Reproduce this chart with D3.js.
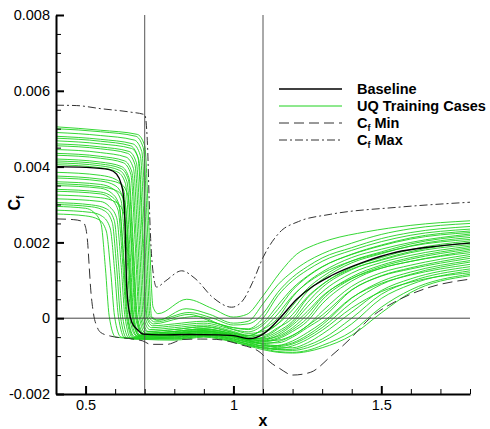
<!DOCTYPE html>
<html>
<head>
<meta charset="utf-8">
<script src="https://cdn.jsdelivr.net/npm/d3@7"></script>
<style>
  body { margin: 0; background: #fff; }
  svg { display: block; font-family: "Liberation Sans", Arial, sans-serif; }
</style>
</head>
<body>
<svg id="chart" width="490" height="429"></svg>
<script>
// Skin-friction coefficient along x. Curve values are stored as Cf × 10^4.
const CF_UNIT = 1e-4;

const xMajorTicks = [0.5, 1, 1.5];
const xTickLabels = ["0.5", "1", "1.5"];
const yMajorTicks = [-0.002, 0, 0.002, 0.004, 0.006, 0.008];
const yTickLabels = ["-0.002", "0", "0.002", "0.004", "0.006", "0.008"];
const markerX = [0.7, 1.1];
const legendLabels = ["Baseline", "UQ Training Cases", "Cf Min", "Cf Max"];

const baseline = [[0.4,40],[0.5,39.8],[0.58,39.2],[0.605,38],[0.62,35.5],[0.627,33],[0.633,26],[0.639,8.5],[0.648,1.5],[0.656,-1],[0.675,-3],[0.695,-4.2],[0.75,-4.4],[0.85,-4.3],[0.95,-4.4],[1.0,-4.6],[1.056,-5.4],[1.1,-4.2],[1.157,0],[1.214,5],[1.27,8.5],[1.33,11.2],[1.44,14.8],[1.55,17.4],[1.665,18.8],[1.8,19.8]];

const cfMin = [[0.4,26.2],[0.46,26],[0.49,25.5],[0.5,24],[0.507,20],[0.512,14],[0.517,8],[0.526,1.6],[0.54,-2.5],[0.55,-3.7],[0.583,-4.7],[0.66,-5.5],[0.694,-6],[0.72,-6.9],[0.775,-6.9],[0.83,-5.6],[0.89,-5.5],[0.944,-5.6],[1.02,-6.9],[1.09,-9],[1.124,-11.6],[1.157,-13.3],[1.2,-15],[1.26,-14.3],[1.33,-10],[1.394,-5.5],[1.462,0],[1.563,5],[1.665,8.2],[1.8,10.3]];

const cfMax = [[0.4,56.2],[0.47,56.1],[0.55,55.3],[0.65,54.4],[0.7,53.7],[0.705,51.5],[0.71,44.5],[0.715,31.4],[0.72,21],[0.727,13],[0.74,8.2],[0.77,9.8],[0.825,12.5],[0.87,10.5],[0.93,5.5],[0.994,2.9],[1.03,4.5],[1.065,9.5],[1.1,16],[1.157,22.7],[1.22,25.5],[1.327,27.4],[1.56,29.3],[1.8,30.6]];

const trainingCases = [
  [[0.4,50.5],[0.55,49.6],[0.675,48.5],[0.7,45.5],[0.715,22.7],[0.728,3],[0.745,1.2],[0.842,5],[0.93,2.5],[1.0,0.3],[1.045,1],[1.1,5.9],[1.157,12],[1.214,16.9],[1.27,19.2],[1.33,20.8],[1.45,22.8],[1.6,24.5],[1.8,25.7]],
  [[0.4,50],[0.55,49.2],[0.67,48],[0.695,45],[0.71,22.5],[0.723,0.5],[0.745,-0.5],[0.84,2.5],[0.92,1],[1.0,-1.3],[1.05,-0.8],[1.1,3.8],[1.15,8.8],[1.2,12.3],[1.25,15],[1.3,17],[1.4,19.8],[1.5,22.1],[1.6,23.6],[1.8,25]],
  [[0.4,49],[0.55,48.2],[0.665,47],[0.69,44],[0.705,22],[0.718,0.5],[0.74,-0.5],[0.85,1.5],[0.93,0],[1.0,-1.8],[1.05,-1.5],[1.1,1.2],[1.15,6.8],[1.2,10.8],[1.25,13.6],[1.3,15.9],[1.4,18.6],[1.5,21],[1.6,22.6],[1.8,24.2]],
  [[0.4,48],[0.55,47.2],[0.66,46],[0.685,43],[0.7,21.6],[0.713,0.5],[0.735,-1],[0.85,1],[0.93,-1],[1.0,-2.5],[1.05,-3],[1.1,-1.2],[1.15,3.4],[1.2,7.9],[1.25,11.1],[1.3,13.6],[1.4,16.8],[1.5,19.1],[1.6,20.9],[1.8,22.6]],
  [[0.4,47.5],[0.55,46.7],[0.652,45.5],[0.677,42.5],[0.692,21.4],[0.705,0.5],[0.727,-2],[0.8,-1.5],[0.9,-0.8],[1.0,-2.5],[1.05,-2.8],[1.1,0],[1.15,5.9],[1.2,9.9],[1.25,12.7],[1.3,15],[1.4,17.9],[1.5,20.2],[1.6,21.9],[1.8,23.5]],
  [[0.4,46.8],[0.55,46],[0.655,44.8],[0.68,41.8],[0.695,21],[0.708,0.5],[0.73,-1.5],[0.82,0],[0.88,0.5],[0.95,-1.5],[1.0,-3],[1.05,-4],[1.1,-3.5],[1.15,-1.5],[1.2,2.2],[1.25,7],[1.3,10.2],[1.4,14.6],[1.5,17],[1.6,19.1],[1.8,21.3]],
  [[0.4,46],[0.55,45.2],[0.647,44],[0.672,41],[0.687,20.7],[0.7,0.5],[0.722,-2.5],[0.8,-2],[0.9,-1.3],[1.0,-3],[1.05,-3.6],[1.1,-1.8],[1.15,2.3],[1.2,7.4],[1.25,10.9],[1.3,13.5],[1.4,16.9],[1.5,19.3],[1.6,21.2],[1.8,23]],
  [[0.4,45.5],[0.55,44.7],[0.642,43.5],[0.667,40.5],[0.682,20.5],[0.695,0.5],[0.717,-3],[0.8,-2.5],[0.9,-1.8],[1.0,-3.5],[1.05,-4.5],[1.1,-4.5],[1.15,-2.5],[1.2,0],[1.25,5.3],[1.3,8.8],[1.4,13.4],[1.5,16],[1.6,18.1],[1.8,20.4]],
  [[0.4,44.5],[0.55,43.7],[0.637,42.5],[0.662,39.5],[0.677,20],[0.69,0.5],[0.712,-3.5],[0.8,-3],[0.9,-2.3],[1.0,-3.8],[1.05,-4.6],[1.1,-3],[1.15,0],[1.2,5.6],[1.25,9.5],[1.3,12.2],[1.4,16],[1.5,18.2],[1.6,20],[1.8,22.2]],
  [[0.4,43.5],[0.55,42.7],[0.632,41.5],[0.657,38.5],[0.672,19.6],[0.685,0.5],[0.707,-3.5],[0.8,-3],[0.9,-2.2],[1.0,-3.8],[1.05,-5],[1.1,-5.5],[1.15,-4.8],[1.2,-2.5],[1.25,1],[1.3,5.5],[1.4,10.9],[1.5,14],[1.6,16],[1.8,18.6]],
  [[0.4,43],[0.55,42.2],[0.628,41],[0.653,38],[0.668,19.4],[0.681,0.5],[0.703,-4],[0.8,-3.5],[0.9,-2.8],[1.0,-4.2],[1.05,-5],[1.1,-4],[1.15,-1.5],[1.2,3.3],[1.25,7.8],[1.3,10.9],[1.4,15.1],[1.5,17.5],[1.6,19.6],[1.8,21.8]],
  [[0.4,42],[0.55,41.2],[0.622,40],[0.647,37],[0.662,18.9],[0.675,0.5],[0.697,-4],[0.8,-3.5],[0.9,-2.8],[1.0,-4.3],[1.05,-5.3],[1.1,-6],[1.15,-5.8],[1.2,-4.5],[1.25,-2],[1.3,1.8],[1.4,8.4],[1.5,12],[1.6,14],[1.8,16.8]],
  [[0.4,41.5],[0.55,40.7],[0.62,39.5],[0.645,36.5],[0.66,18.7],[0.673,0.5],[0.695,-4.5],[0.8,-4],[0.9,-3.3],[1.0,-4.6],[1.05,-5.5],[1.1,-5.2],[1.15,-3.5],[1.2,-0.8],[1.25,4.1],[1.3,8.1],[1.4,12.8],[1.5,15.5],[1.6,17.6],[1.8,20]],
  [[0.4,41],[0.55,40.2],[0.615,39],[0.64,36],[0.655,18.5],[0.668,0.5],[0.69,-4],[0.8,-3.5],[0.9,-2.8],[1.0,-4],[1.05,-4.6],[1.1,-2.8],[1.15,1.1],[1.2,5.9],[1.25,9.3],[1.3,11.8],[1.4,15.1],[1.5,17.2],[1.6,19],[1.8,20.8]],
  [[0.4,40.5],[0.55,39.7],[0.61,38.5],[0.635,35.5],[0.65,18.2],[0.663,0.5],[0.685,-4.5],[0.8,-4],[0.9,-3.3],[1.0,-4.8],[1.05,-5.8],[1.1,-6.8],[1.15,-7.2],[1.2,-6.5],[1.25,-4.5],[1.3,-1.8],[1.4,5.3],[1.5,9.7],[1.6,12.2],[1.8,15.2]],
  [[0.4,38.5],[0.55,37.7],[0.605,36.5],[0.63,33.5],[0.645,17.3],[0.658,0.5],[0.68,-4.5],[0.8,-4.2],[0.9,-3.5],[1.0,-4.8],[1.05,-5.6],[1.1,-5],[1.15,-2.8],[1.2,1],[1.25,5.6],[1.3,8.9],[1.4,13],[1.5,15.3],[1.6,17.3],[1.8,19.4]],
  [[0.4,37.5],[0.55,36.7],[0.618,35.5],[0.643,32.5],[0.658,16.9],[0.671,0.5],[0.693,-4.2],[0.8,-3.8],[0.9,-3],[1.0,-4.5],[1.05,-5.5],[1.1,-6],[1.15,-5.2],[1.2,-3],[1.25,0],[1.3,4.8],[1.4,10.4],[1.5,13.6],[1.6,15.6],[1.8,18.2]],
  [[0.4,37],[0.55,36.2],[0.6,35],[0.625,32],[0.64,16.7],[0.653,0.5],[0.675,-4.8],[0.8,-4.5],[0.9,-3.8],[1.0,-5],[1.05,-6],[1.1,-7],[1.15,-7.8],[1.2,-7.8],[1.25,-6.5],[1.3,-4.2],[1.4,1.6],[1.5,7.3],[1.6,10.4],[1.8,13.6]],
  [[0.4,36],[0.55,35.3],[0.595,34],[0.62,31],[0.635,16.2],[0.648,0.5],[0.67,-4.5],[0.8,-4],[0.9,-3.3],[1.0,-4.6],[1.05,-5.5],[1.1,-5.5],[1.15,-4],[1.2,-1.3],[1.25,3],[1.3,6.9],[1.4,11.9],[1.5,14.7],[1.6,16.6],[1.8,19]],
  [[0.4,35.5],[0.55,34.7],[0.608,33.5],[0.633,30.5],[0.648,16],[0.661,0.5],[0.683,-4.8],[0.8,-4.5],[0.9,-3.8],[1.0,-5],[1.05,-6],[1.1,-6.5],[1.15,-6.5],[1.2,-5],[1.25,-2.5],[1.3,0],[1.4,7.4],[1.5,11.2],[1.6,13.3],[1.8,16.3]],
  [[0.4,35],[0.55,34.3],[0.588,33],[0.613,30],[0.628,15.8],[0.641,0.5],[0.663,-5],[0.8,-4.8],[0.9,-4],[1.0,-5.3],[1.05,-6.3],[1.1,-7.5],[1.15,-8.3],[1.2,-8.5],[1.25,-7.8],[1.3,-6.2],[1.4,-1.5],[1.5,5.2],[1.6,8.9],[1.8,12.5]],
  [[0.4,34],[0.55,33.3],[0.59,32],[0.615,29],[0.63,15.3],[0.643,0.5],[0.665,-4.8],[0.8,-4.5],[0.9,-3.7],[1.0,-5],[1.05,-5.8],[1.1,-6.2],[1.15,-5.5],[1.2,-3.5],[1.25,-0.8],[1.3,3.8],[1.4,9.8],[1.5,13.2],[1.6,15],[1.8,17.8]],
  [[0.4,33.5],[0.55,32.8],[0.585,31.5],[0.61,28.5],[0.625,15.1],[0.638,0.5],[0.66,-5.2],[0.8,-5],[0.9,-4.2],[1.0,-5.5],[1.05,-6.5],[1.1,-7.3],[1.15,-7.5],[1.2,-6.8],[1.25,-5],[1.3,-2.5],[1.4,4.1],[1.5,8.9],[1.6,11.6],[1.8,14.8]],
  [[0.4,32.5],[0.55,31.8],[0.605,30.5],[0.63,27.5],[0.645,14.6],[0.658,0.5],[0.68,-4.5],[0.8,-4.2],[0.9,-3.4],[1.0,-4.8],[1.05,-5.7],[1.1,-5.8],[1.15,-4.5],[1.2,-1.8],[1.25,1.8],[1.3,5.8],[1.4,10.5],[1.5,13.2],[1.6,15],[1.8,17.3]],
  [[0.4,31.5],[0.55,30.8],[0.58,29.5],[0.605,26.5],[0.62,14.2],[0.633,0.5],[0.655,-5.5],[0.8,-5.2],[0.9,-4.4],[1.0,-5.8],[1.05,-7],[1.1,-8],[1.15,-8.8],[1.2,-9],[1.25,-8.5],[1.3,-7.2],[1.4,-3.5],[1.5,2.9],[1.6,7.5],[1.8,11.6]],
  [[0.4,30.5],[0.52,29.9],[0.572,28.8],[0.597,25.8],[0.612,13.7],[0.625,0.5],[0.647,-5.2],[0.8,-5],[0.9,-4.2],[1.0,-5.5],[1.05,-6.3],[1.1,-6.7],[1.15,-6.2],[1.2,-4.6],[1.25,-2],[1.3,0.8],[1.4,7.5],[1.5,11.1],[1.6,13],[1.8,15.8]],
  [[0.4,30],[0.52,29.4],[0.565,28.3],[0.59,25.3],[0.605,13.5],[0.618,0.5],[0.64,-5.3],[0.8,-5.3],[0.9,-4.5],[1.0,-5.8],[1.05,-6.8],[1.1,-7.8],[1.15,-8.3],[1.2,-8.2],[1.25,-7.2],[1.3,-5.5],[1.4,0],[1.5,6.3],[1.6,9.7],[1.8,13]],
  [[0.4,29.5],[0.5,29],[0.527,28],[0.552,25],[0.567,13.3],[0.58,0.5],[0.602,-5],[0.7,-5.5],[0.8,-5.5],[0.9,-4.7],[1.0,-6],[1.05,-6.8],[1.1,-7.3],[1.15,-7.2],[1.2,-6],[1.25,-3.8],[1.3,-1.2],[1.4,5.4],[1.5,9.2],[1.6,11.4],[1.8,14.2]],
  [[0.4,28.5],[0.52,27.9],[0.558,26.8],[0.583,23.8],[0.598,12.8],[0.611,0.5],[0.633,-5.2],[0.8,-5.5],[0.9,-4.8],[1.0,-6.2],[1.05,-7.3],[1.1,-8.3],[1.15,-9],[1.2,-9.2],[1.25,-8.8],[1.3,-7.8],[1.4,-4.5],[1.5,1.4],[1.6,6.8],[1.8,11.2]],
  [[0.4,27.5],[0.5,27],[0.545,26],[0.57,23],[0.585,12.4],[0.598,0.5],[0.62,-5],[0.7,-5.6],[0.8,-5.8],[0.9,-5],[1.0,-6.3],[1.05,-7.2],[1.1,-7.8],[1.15,-8],[1.2,-7.3],[1.25,-5.6],[1.3,-3.2],[1.4,2.7],[1.5,7],[1.6,9.5],[1.8,12]]
];

const svg = d3.select("#chart");
const x = d3.scaleLinear().domain([0.4, 1.8]).range([56, 470]);
const y = d3.scaleLinear().domain([-0.002, 0.008]).range([394, 15]);

const line = d3.line()
  .x(d => x(d[0]))
  .y(d => y(d[1] * CF_UNIT))
  .curve(d3.curveMonotoneX);

const plot = svg.append("g");

// UQ training cases
plot.append("g")
  .selectAll("path")
  .data(trainingCases)
  .join("path")
  .attr("d", line)
  .attr("fill", "none")
  .attr("stroke", "#1ed21e")
  .attr("stroke-width", 0.9);

// reference lines: x = 0.7, x = 1.1 and Cf = 0
plot.append("g")
  .selectAll("line")
  .data(markerX)
  .join("line")
  .attr("x1", d => x(d)).attr("x2", d => x(d))
  .attr("y1", y.range()[1]).attr("y2", y.range()[0])
  .attr("stroke", "#555").attr("stroke-width", 1);
plot.append("line")
  .attr("x1", x.range()[0]).attr("x2", x.range()[1])
  .attr("y1", y(0)).attr("y2", y(0))
  .attr("stroke", "#444").attr("stroke-width", 1);

// envelope and baseline
plot.append("path").datum(cfMin).attr("d", line)
  .attr("fill", "none").attr("stroke", "#333").attr("stroke-width", 1)
  .attr("stroke-dasharray", "10,5");
plot.append("path").datum(cfMax).attr("d", line)
  .attr("fill", "none").attr("stroke", "#333").attr("stroke-width", 1)
  .attr("stroke-dasharray", "8,3,2,3");
plot.append("path").datum(baseline).attr("d", line)
  .attr("fill", "none").attr("stroke", "#000").attr("stroke-width", 1.4);

// axes
const fontSize = 14.5;
const xMinor = x.ticks(14).filter(t => t > 0.4 && !xMajorTicks.some(m => Math.abs(m - t) < 1e-9));
const yMinor = y.ticks(20).filter(t => !yMajorTicks.some(m => Math.abs(m - t) < 1e-12));

const gxMinor = svg.append("g").attr("transform", `translate(0,${y.range()[0]})`)
  .call(d3.axisBottom(x).tickValues(xMinor).tickSize(-5).tickSizeOuter(0).tickFormat(""));
gxMinor.select(".domain").remove();
gxMinor.selectAll(".tick line").attr("stroke", "#000").attr("stroke-width", 1);

const gyMinor = svg.append("g").attr("transform", `translate(${x.range()[0]},0)`)
  .call(d3.axisLeft(y).tickValues(yMinor).tickSize(-5).tickSizeOuter(0).tickFormat(""));
gyMinor.select(".domain").remove();
gyMinor.selectAll(".tick line").attr("stroke", "#000").attr("stroke-width", 1);

const gx = svg.append("g").attr("transform", `translate(0,${y.range()[0]})`)
  .call(d3.axisBottom(x).tickValues(xMajorTicks).tickSize(-8).tickSizeOuter(0).tickPadding(6)
    .tickFormat((d, i) => xTickLabels[i]));
gx.select(".domain").attr("stroke", "#000").attr("stroke-width", 2);
gx.selectAll(".tick line").attr("stroke", "#000").attr("stroke-width", 2);
gx.selectAll(".tick text").attr("font-size", fontSize).attr("font-family", "Liberation Sans, Arial, sans-serif").attr("fill", "#000");

const gy = svg.append("g").attr("transform", `translate(${x.range()[0]},0)`)
  .call(d3.axisLeft(y).tickValues(yMajorTicks).tickSize(-8).tickSizeOuter(0).tickPadding(6)
    .tickFormat((d, i) => yTickLabels[i]));
gy.select(".domain").attr("stroke", "#000").attr("stroke-width", 2);
gy.selectAll(".tick line").attr("stroke", "#000").attr("stroke-width", 2);
gy.selectAll(".tick text").attr("font-size", fontSize).attr("font-family", "Liberation Sans, Arial, sans-serif").attr("fill", "#000");

// axis titles
svg.append("text")
  .attr("x", x(1.1)).attr("y", 426)
  .attr("text-anchor", "middle")
  .attr("font-size", 16).attr("font-weight", "bold")
  .text("x");

const yTitle = svg.append("text")
  .attr("transform", "translate(20,203) rotate(-90)")
  .attr("text-anchor", "middle")
  .attr("font-size", 16).attr("font-weight", "bold");
yTitle.append("tspan").text("C");
yTitle.append("tspan").attr("font-size", 10).attr("dy", 4).text("f");

// legend
function cfLabel(sel, label) {
  if (label.startsWith("Cf")) {
    sel.append("tspan").text("C");
    sel.append("tspan").attr("font-size", 9).attr("dy", 3).text("f");
    sel.append("tspan").attr("dy", -3).text(label.slice(2));
  } else {
    sel.text(label);
  }
}
const legendStyles = [
  { stroke: "#000", width: 1.4, dash: null },
  { stroke: "#1ed21e", width: 1, dash: null },
  { stroke: "#333", width: 1, dash: "10,5" },
  { stroke: "#333", width: 1, dash: "8,3,2,3" }
];
const legend = svg.append("g");
legendLabels.forEach((label, i) => {
  const cy = 89 + i * 17;
  legend.append("line")
    .attr("x1", 279).attr("x2", 342).attr("y1", cy).attr("y2", cy)
    .attr("stroke", legendStyles[i].stroke)
    .attr("stroke-width", legendStyles[i].width)
    .attr("stroke-dasharray", legendStyles[i].dash);
  const t = legend.append("text")
    .attr("x", 357).attr("y", cy + 5)
    .attr("font-size", 14.5).attr("font-weight", "bold");
  cfLabel(t, label);
});
</script>
</body>
</html>
